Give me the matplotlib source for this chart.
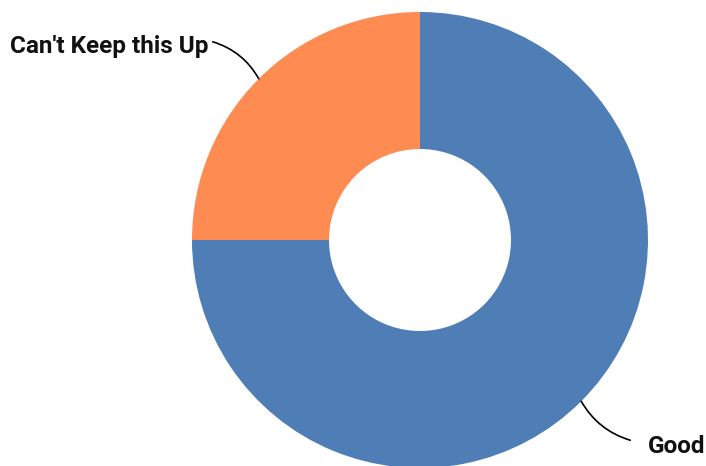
import numpy as np
import matplotlib.pyplot as plt

labels = ["Good", "Can't Keep this Up"]
values = [75, 25]
colors = ['#4f7db6', '#fe8c52']

W, H = 706, 466
cx, cy = 420, 226
r_out = 228
r_in = 91

fig = plt.figure(figsize=(7.06, 4.66), dpi=100)
ax = fig.add_axes([0, 0, 1, 1])

wedges, _ = ax.pie(values, colors=colors, startangle=90, counterclock=False,
                   center=(cx, cy), radius=r_out, frame=True,
                   wedgeprops=dict(width=r_out - r_in, linewidth=0))
ax.set_xlim(0, W)
ax.set_ylim(0, H)
ax.set_aspect('equal')
ax.axis('off')

# labels with curved leader lines
font = dict(family=['Roboto', 'DejaVu Sans'], fontweight='bold', fontsize=17.5, color='#111111')
for w, lab in zip(wedges, labels):
    mid = np.deg2rad((w.theta1 + w.theta2) / 2)
    px = cx + r_out * np.cos(mid)
    py = cy + r_out * np.sin(mid)
    if np.cos(mid) > 0:
        tx, ty = px + 49, py - 39
        ha = 'left'
        txt_x = tx + 18
        txt_y = ty - 6
    else:
        tx, ty = px - 46, py + 37
        ha = 'right'
        txt_x = tx - 4
        txt_y = ty - 5
    ax.annotate('', xy=(px, py), xytext=(tx, ty),
                arrowprops=dict(arrowstyle='-', color='black', lw=1.2,
                                shrinkA=0, shrinkB=0,
                                connectionstyle='arc3,rad=-0.2'))
    ax.text(txt_x, txt_y, lab, ha=ha, va='center', **font)

fig.savefig('out.png', dpi=100)
